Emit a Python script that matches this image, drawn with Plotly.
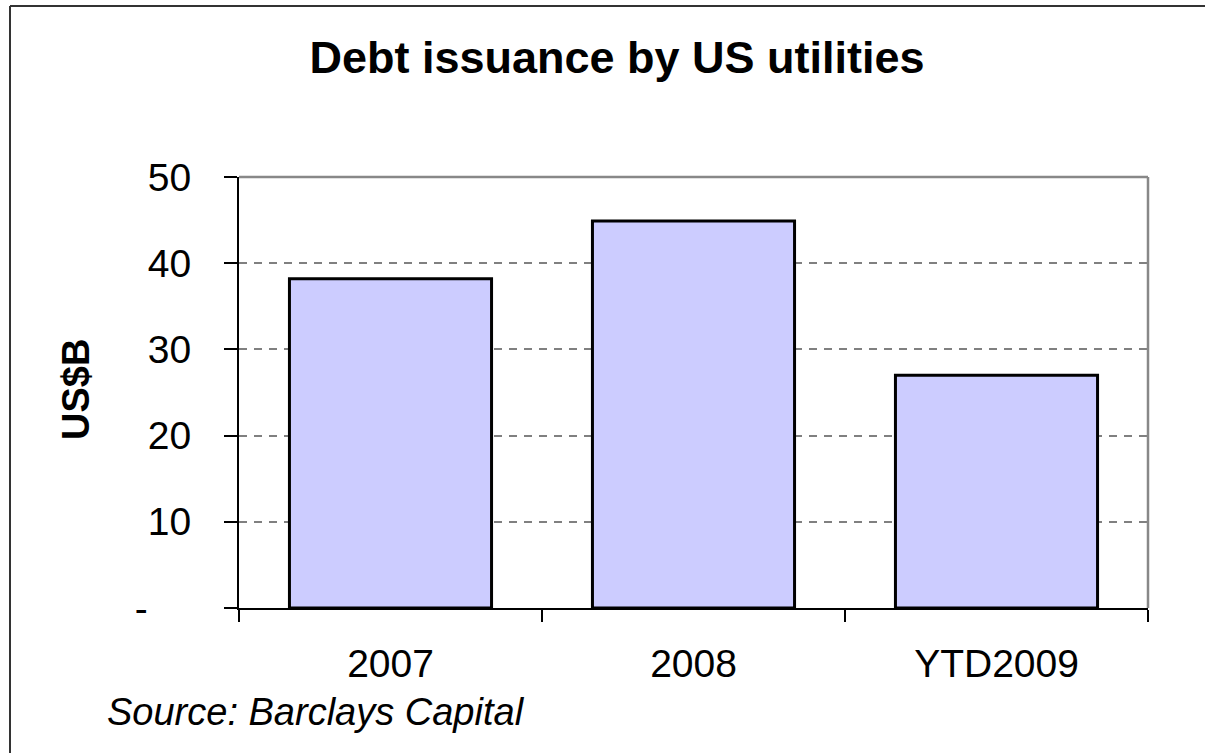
import plotly.graph_objects as go

# Debt issuance by US utilities, US$ billions
categories = ["2007", "2008", "YTD2009"]
issuance = [38.2, 44.9, 27.0]

y_tick_values = [0, 10, 20, 30, 40, 50]
y_tick_labels = ["-\u00a0\u00a0\u00a0\u00a0", "10", "20", "30", "40", "50"]

W, H = 1205, 753
L, R, T, B = 239, 57, 177, 145
pw, ph = W - L - R, H - T - B

def px_x(x):
    return (x - L) / pw

def px_y(y):
    return (H - B - y) / ph

FONT = "Arial, Liberation Sans, sans-serif"
TICK_SIZE = 39

fig = go.Figure(
    go.Bar(
        x=categories,
        y=issuance,
        marker=dict(color="#CCCCFF", line=dict(color="black", width=3)),
        width=0.667,
        hoverinfo="x+y",
    )
)

fig.update_layout(
    width=W,
    height=H,
    margin=dict(l=L, r=R, t=T, b=B),
    paper_bgcolor="white",
    plot_bgcolor="white",
    showlegend=False,
    font=dict(family=FONT, color="black", size=TICK_SIZE),
    title=dict(
        text="<b>Debt issuance by US utilities</b>",
        x=617 / W,
        xanchor="center",
        y=1 - 57 / H,
        yanchor="middle",
        font=dict(family=FONT, size=45, color="black"),
    ),
    xaxis=dict(
        type="category",
        showgrid=False,
        showline=True,
        linecolor="black",
        linewidth=2,
        ticks="outside",
        tickson="boundaries",
        ticklen=12,
        tickcolor="black",
        tickwidth=1.5,
        ticklabelstandoff=20,
        tickfont=dict(size=TICK_SIZE),
    ),
    yaxis=dict(
        range=[0, 50],
        tickvals=y_tick_values,
        ticktext=y_tick_labels,
        showgrid=True,
        gridcolor="#808080",
        gridwidth=1.5,
        griddash="8px,7px",
        showline=True,
        linecolor="black",
        linewidth=2,
        ticks="outside",
        ticklen=13,
        tickcolor="black",
        tickwidth=1.5,
        ticklabelstandoff=25,
        tickfont=dict(size=TICK_SIZE),
        zeroline=False,
    ),
    shapes=[
        # gray top and right edges of the plot area
        dict(type="line", xref="paper", yref="paper", x0=0, x1=1, y0=1, y1=1,
             line=dict(color="#888888", width=2.5), layer="above"),
        dict(type="line", xref="paper", yref="paper", x0=1, x1=1, y0=0, y1=1,
             line=dict(color="#888888", width=2.5), layer="above"),
        # outer frame: top and left edges
        dict(type="line", xref="paper", yref="paper",
             x0=px_x(10), x1=px_x(W + 5), y0=px_y(6), y1=px_y(6),
             line=dict(color="#333333", width=2)),
        dict(type="line", xref="paper", yref="paper",
             x0=px_x(10), x1=px_x(10), y0=px_y(6), y1=px_y(H + 5),
             line=dict(color="#333333", width=2)),
    ],
    annotations=[
        dict(text="<b>US$B</b>", textangle=-90, xref="paper", yref="paper",
             x=px_x(76), y=px_y(390), xanchor="center", yanchor="middle",
             showarrow=False, font=dict(family=FONT, size=38, color="black")),
        dict(text="<i>Source: Barclays Capital</i>", xref="paper", yref="paper",
             x=px_x(105), y=px_y(712), xanchor="left", yanchor="middle",
             showarrow=False, font=dict(family=FONT, size=38, color="black")),
    ],
)

fig.write_html("out.html")
